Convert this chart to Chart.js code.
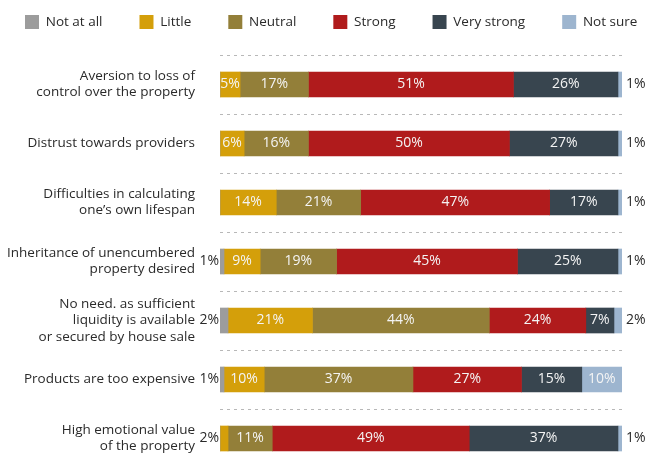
<!DOCTYPE html>
<html lang="en">
<head>
    <meta charset="UTF-8">
    <title>Reasons</title>
    <style>
        body { margin: 0; overflow: hidden; background: #fff; }
        #wrap { width: 651px; height: 472px; position: relative; }
    </style>
</head>
<body>
    <div id="wrap"><canvas id="myChart"></canvas></div>
    <script src="https://cdn.jsdelivr.net/npm/chart.js"></script>
<script>
    const categories = [
        ['Aversion to loss of', 'control over the property'],
        'Distrust towards providers',
        ['Difficulties in calculating', 'one’s own lifespan'],
        ['Inheritance of unencumbered', 'property desired'],
        ['No need. as sufficient', 'liquidity is available', 'or secured by house sale'],
        'Products are too expensive',
        ['High emotional value', 'of the property']
    ]
    const notAtAll   = [0, 0, 0, 1, 2, 1, 0]
    const little     = [5, 6, 14, 9, 21, 10, 2]
    const neutral    = [17, 16, 21, 19, 44, 37, 11]
    const strong     = [51, 50, 47, 45, 24, 27, 49]
    const veryStrong = [26, 27, 17, 25, 7, 15, 37]
    const notSure    = [1, 1, 1, 1, 2, 10, 1]

    const FONT = 'Open Sans'

    // legend takes the space above the first dashed line
    const legendSpace = {
        id: 'legendSpace',
        beforeInit(chart) {
            const fit = chart.legend.fit
            chart.legend.fit = function () {
                fit.call(this)
                this.height = 77
            }
        }
    }

    const valueLabels = {
        id: 'valueLabels',
        afterDatasetsDraw(chart) {
            const ctx = chart.ctx
            ctx.save()
            ctx.font = '14px "' + FONT + '"'
            ctx.textBaseline = 'middle'
            chart.data.datasets.forEach((ds, di) => {
                const meta = chart.getDatasetMeta(di)
                meta.data.forEach((bar, i) => {
                    const v = ds.data[i]
                    if (!v) return
                    const p = bar.getProps(['x', 'y', 'base'], true)
                    const txt = v + '%'
                    if (v >= 3) {
                        ctx.fillStyle = '#f4f4f4'
                        ctx.textAlign = 'center'
                        ctx.fillText(txt, (p.x + p.base) / 2, p.y)
                        return
                    }
                    // small segment: first one goes left of the bar, otherwise right
                    let first = true
                    for (let k = 0; k < di; k++) if (chart.data.datasets[k].data[i]) first = false
                    ctx.fillStyle = '#2a2a2a'
                    if (first) {
                        ctx.textAlign = 'right'
                        ctx.fillText(txt, p.base - 1, p.y)
                    } else {
                        ctx.textAlign = 'left'
                        ctx.fillText(txt, p.x + 4, p.y)
                    }
                })
            })
            ctx.restore()
        }
    }

    const ctx = document.getElementById('myChart')
    new Chart(ctx, {
        type: 'bar',
        data: {
            labels: categories,
            datasets: [
                { label: 'Not at all', data: notAtAll, backgroundColor: '#9c9c9c' },
                { label: 'Little', data: little, backgroundColor: '#d49f0a' },
                { label: 'Neutral', data: neutral, backgroundColor: '#937f39' },
                { label: 'Strong', data: strong, backgroundColor: '#b01b1c' },
                { label: 'Very strong', data: veryStrong, backgroundColor: '#38454f' },
                { label: 'Not sure', data: notSure, backgroundColor: '#9db5cf' }
            ]
        },
        options: {
            indexAxis: 'y',
            responsive: true,
            maintainAspectRatio: false,
            animation: false,
            datasets: { bar: { barThickness: 25, borderWidth: 0 } },
            layout: { padding: { top: -22, left: -12, right: -40, bottom: 4 } },
            plugins: {
                tooltip: { enabled: false },
                legend: {
                    position: 'top',
                    align: 'start',
                    labels: {
                        boxWidth: 14,
                        boxHeight: 14,
                        padding: 37,
                        color: '#2a2a2a',
                        font: { family: FONT, size: 13.5 }
                    }
                }
            },
            scales: {
                x: { stacked: true, min: 0, max: 100, display: false },
                y: {
                    stacked: true,
                    afterFit(s) {
                        s.width = 232
                        s.paddingTop = 0
                        s.paddingBottom = 0
                    },
                    grid: { color: '#b8b8b8', lineWidth: 1, drawTicks: false, offset: true },
                    border: { display: false, dash: [3, 4] },
                    ticks: { padding: 25, color: '#2a2a2a', font: { family: FONT, size: 13.5 } }
                },
                yPad: {
                    axis: 'y',
                    position: 'right',
                    afterFit(s) { s.width = 69 },
                    grid: { display: false },
                    border: { display: false },
                    ticks: { display: false }
                }
            }
        },
        plugins: [legendSpace, valueLabels]
    })
</script>
</body>
</html>
